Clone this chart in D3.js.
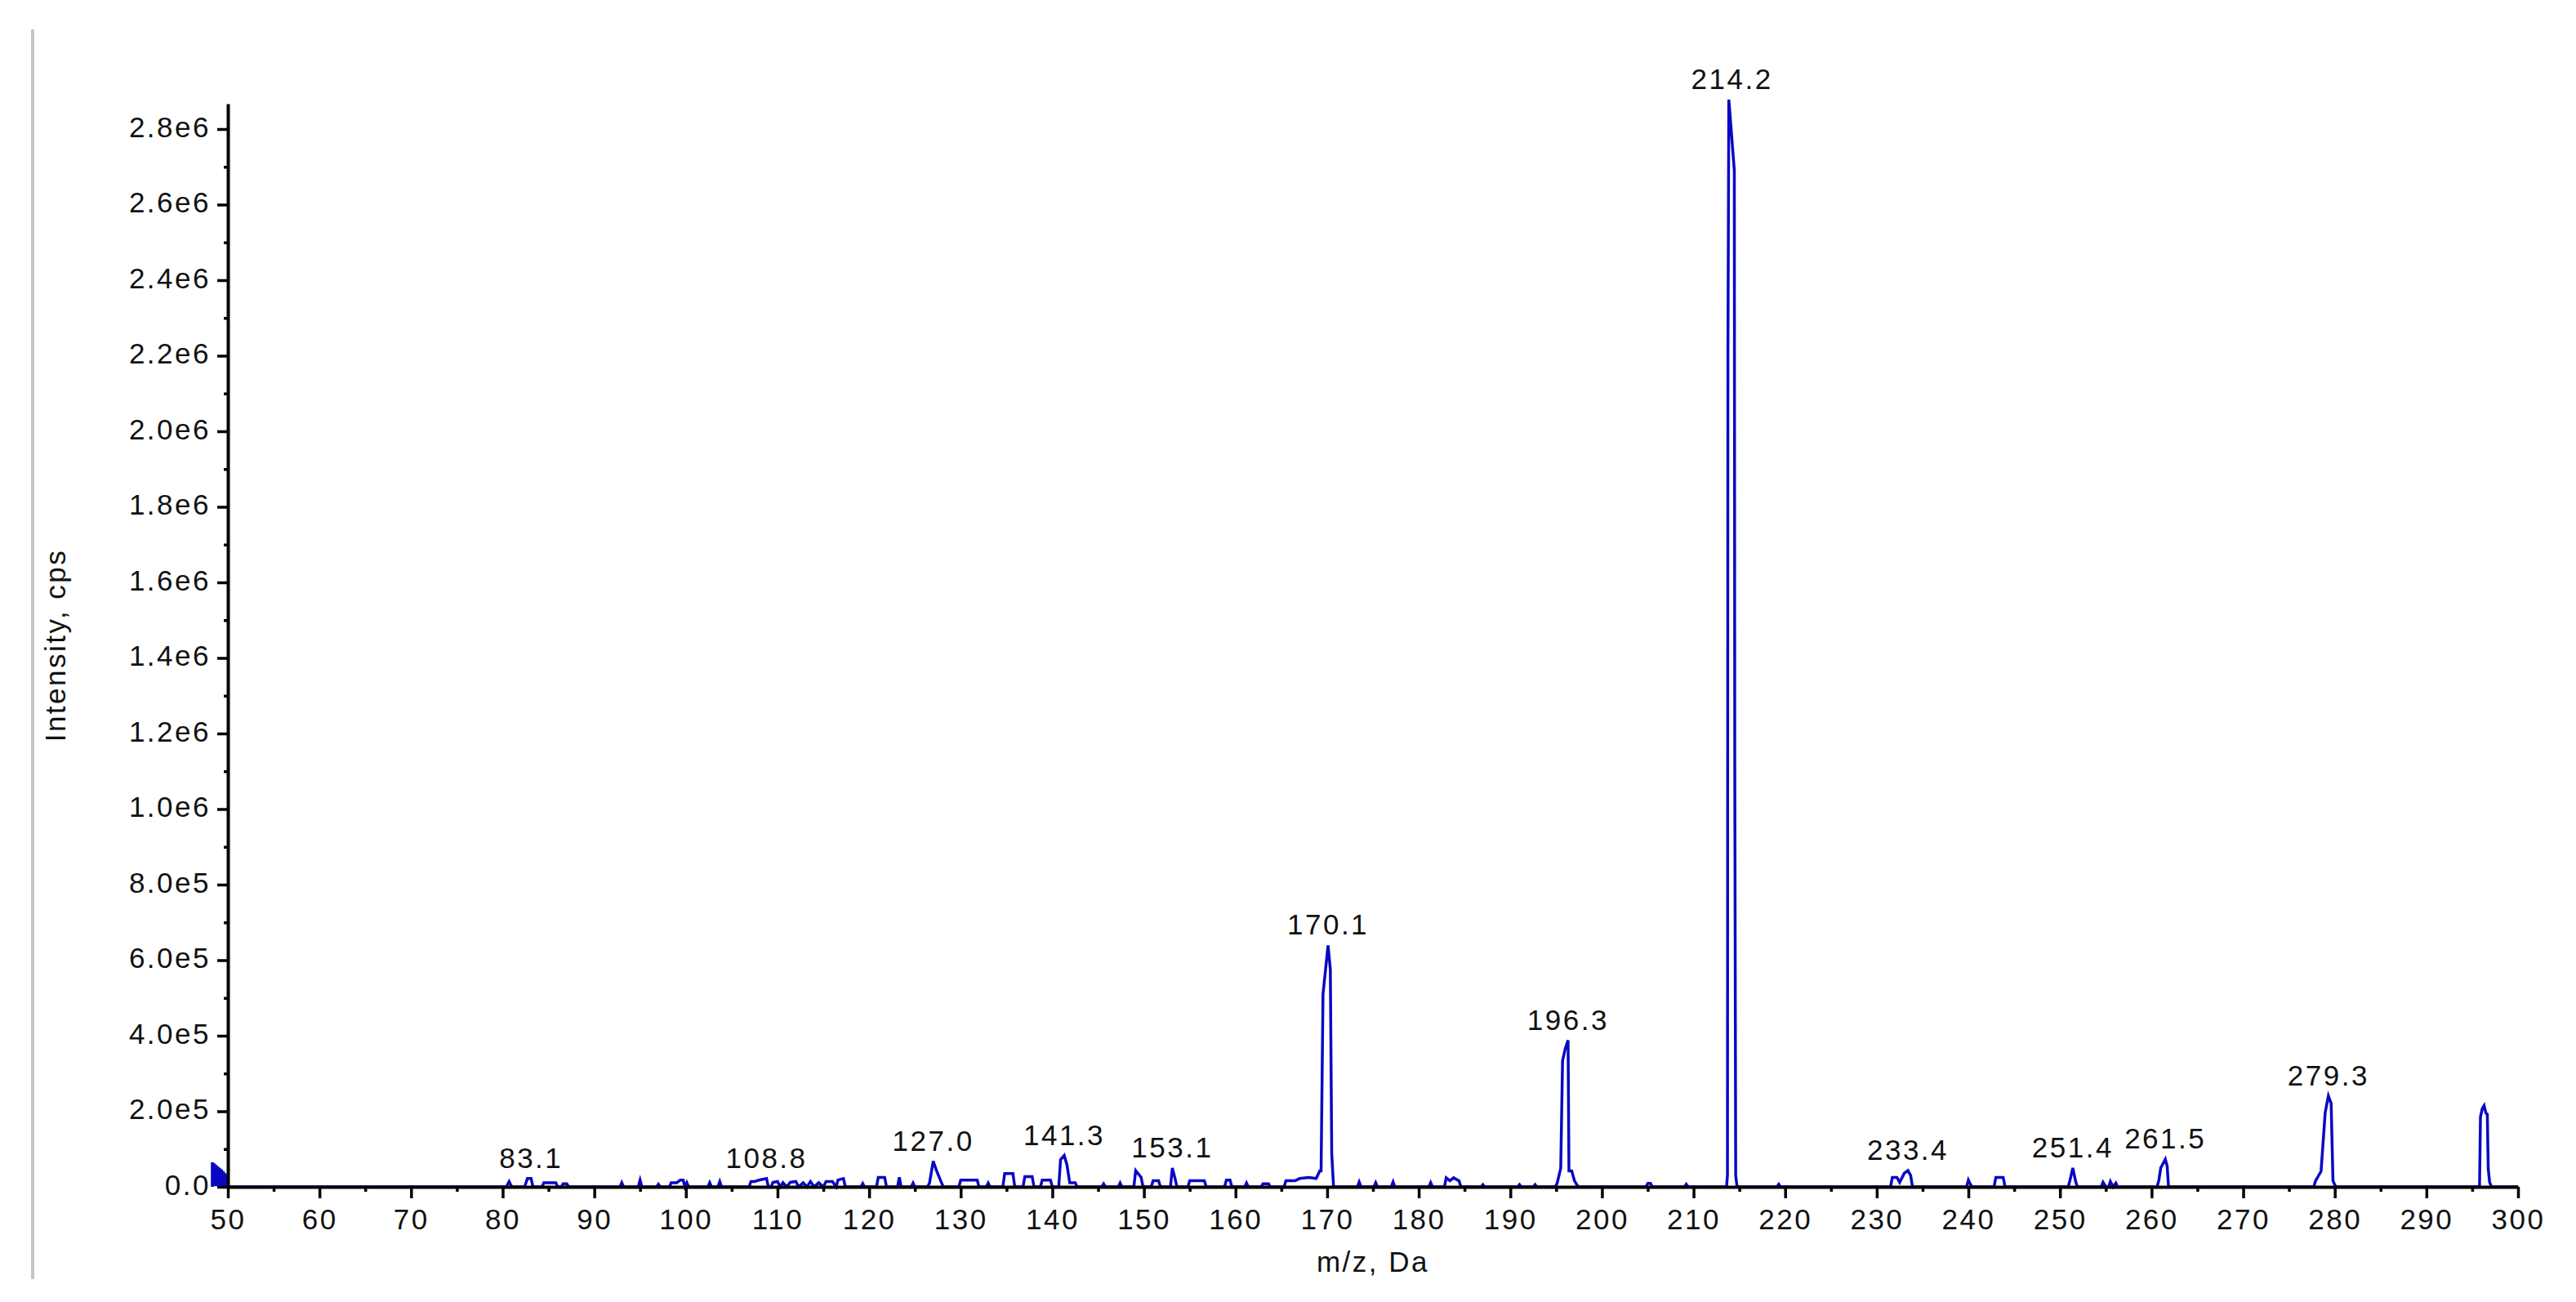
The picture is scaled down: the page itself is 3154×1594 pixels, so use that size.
<!DOCTYPE html>
<html>
<head>
<meta charset="utf-8">
<script src="https://cdn.jsdelivr.net/npm/d3@7"></script>
<style>
  body { margin: 0; background: #fff; }
  text { font-family: "Liberation Sans", Arial, sans-serif; fill: #111; }
</style>
</head>
<body>
<div id="chart"></div>
<script>
// ------------------------------- DATA ----------------------------------------
// Profile trace, [m/z (Da), intensity (cps)]
var spectrum = [
  [48.3, 0], [48.3, 65000], [48.45, 2000], [48.5, 62000], [48.65, 2000], [48.7, 58000],
  [48.85, 2000], [48.9, 54000], [49.05, 2000], [49.1, 50000], [49.25, 2000], [49.3, 46000],
  [49.45, 2000], [49.5, 41000], [49.65, 2000], [49.7, 36000], [49.85, 2000], [49.9, 30000],
  [50.0, 0], [80.4, 0], [80.7, 14000], [81.0, 0],
  [82.4, 0], [82.7, 22000], [83.1, 22000], [83.3, 0],
  [84.3, 0], [84.5, 11000], [85.8, 11000], [86.0, 0],
  [86.4, 0], [86.6, 8000], [87.0, 8000], [87.2, 0],
  [92.8, 0], [93.0, 11000], [93.2, 0],
  [94.8, 0], [95.0, 18000], [95.2, 0],
  [96.8, 0], [97.0, 7000], [97.2, 0],
  [98.2, 0], [98.4, 11000], [99.0, 11000], [99.4, 18000], [99.7, 18000], [99.9, 0],
  [100.1, 11000], [100.3, 0],
  [102.4, 0], [102.6, 11000], [102.8, 0],
  [103.5, 0], [103.7, 14000], [103.9, 0],
  [106.9, 0], [107.1, 14000], [107.5, 14000], [108.0, 18000], [108.8, 22000], [109.0, 0],
  [109.3, 0], [109.5, 12000], [110.0, 14000], [110.3, 0], [110.6, 11000], [111.0, 0],
  [111.4, 12000], [112.0, 14000], [112.3, 0], [112.8, 11000], [113.2, 0], [113.6, 14000],
  [114.0, 0], [114.5, 11000], [115.0, 0], [115.3, 14000], [116.0, 14000], [116.4, 0],
  [116.6, 18000], [117.2, 22000], [117.4, 0],
  [119.1, 0], [119.3, 9000], [119.5, 0],
  [120.8, 0], [121.0, 25000], [121.7, 25000], [121.9, 0],
  [123.1, 0], [123.3, 25000], [123.5, 0],
  [124.6, 0], [124.8, 10000], [125.0, 0],
  [126.4, 0], [126.6, 11000], [127.0, 68000], [127.4, 40000], [127.9, 11000], [128.1, 0],
  [129.8, 0], [130.0, 18000], [131.8, 18000], [132.0, 0],
  [132.8, 0], [133.0, 10000], [133.2, 0],
  [134.6, 0], [134.8, 35000], [135.7, 35000], [135.9, 0],
  [136.8, 0], [137.0, 27000], [137.8, 27000], [138.0, 0],
  [138.7, 0], [138.9, 18000], [139.8, 18000], [140.0, 0],
  [140.7, 0], [140.9, 72000], [141.3, 83000], [141.6, 58000], [141.9, 11000], [142.5, 11000], [142.7, 0],
  [145.4, 0], [145.6, 8000], [145.8, 0],
  [147.2, 0], [147.4, 10000], [147.6, 0],
  [148.9, 0], [149.1, 43000], [149.7, 25000], [149.9, 0],
  [150.8, 0], [151.0, 16000], [151.6, 16000], [151.8, 0],
  [152.9, 0], [153.1, 50000], [153.4, 22000], [153.6, 0],
  [154.8, 0], [155.0, 16000], [156.6, 16000], [156.8, 0],
  [158.8, 0], [159.0, 18000], [159.4, 18000], [159.6, 0],
  [161.0, 0], [161.2, 10000], [161.4, 0],
  [162.8, 0], [163.0, 8000], [163.6, 8000], [163.8, 0],
  [165.3, 0], [165.5, 16000], [166.5, 16000], [167.0, 22000], [168.0, 25000], [168.8, 22000],
  [169.2, 42000], [169.34, 42000], [169.55, 510000], [170.1, 639000], [170.35, 575000],
  [170.5, 89000], [170.7, 0],
  [173.3, 0], [173.5, 13000], [173.7, 0],
  [175.1, 0], [175.3, 11000], [175.5, 0],
  [177.0, 0], [177.2, 13000], [177.4, 0],
  [181.1, 0], [181.3, 11000], [181.5, 0],
  [182.8, 0], [183.0, 24000], [183.4, 16000], [183.8, 24000], [184.4, 16000], [184.6, 0],
  [186.8, 0], [187.0, 6000], [187.2, 0],
  [190.8, 0], [191.0, 6000], [191.2, 0],
  [192.5, 0], [192.7, 6000], [192.9, 0],
  [194.9, 0], [195.1, 9000], [195.5, 49000], [195.7, 334000], [196.0, 366000], [196.3, 388000],
  [196.4, 42000], [196.7, 42000], [197.0, 16000], [197.4, 0],
  [204.8, 0], [205.0, 9000], [205.3, 9000], [205.5, 0],
  [209.0, 0], [209.2, 7000], [209.4, 0],
  [213.6, 0], [213.7, 30000], [213.75, 2200000], [213.85, 2878000], [214.45, 2690000],
  [214.5, 1120000], [214.6, 30000], [214.75, 0],
  [219.1, 0], [219.3, 7000], [219.5, 0],
  [231.5, 0], [231.7, 25000], [232.2, 25000], [232.5, 12000], [233.0, 36000], [233.4, 43000],
  [233.7, 30000], [233.9, 0],
  [239.8, 0], [240.0, 18000], [240.2, 8000], [240.4, 0],
  [242.8, 0], [243.0, 25000], [243.8, 25000], [244.0, 0],
  [250.9, 0], [251.1, 18000], [251.4, 50000], [251.7, 15000], [251.9, 0],
  [254.5, 0], [254.7, 12000], [255.0, 0], [255.3, 0], [255.5, 14000], [255.8, 0],
  [256.1, 10000], [256.3, 0],
  [260.6, 0], [260.8, 18000], [261.0, 50000], [261.5, 73000], [261.7, 55000], [261.85, 0],
  [277.7, 0], [277.9, 16000], [278.5, 41000], [278.95, 196000], [279.3, 241000],
  [279.6, 221000], [279.8, 16000], [280.1, 0],
  [295.8, 0], [295.9, 185000], [296.1, 207000], [296.3, 215000], [296.5, 195000],
  [296.65, 192000], [296.75, 48000], [296.9, 12000], [297.1, 0], [300.0, 0]
];

// Annotated peaks
var peakLabels = [83.1, 108.8, 127.0, 141.3, 153.1, 170.1, 196.3, 214.2, 233.4, 251.4, 261.5, 279.3];

// Axis ticks
var xTicks = [50, 60, 70, 80, 90, 100, 110, 120, 130, 140, 150, 160, 170, 180, 190, 200,
              210, 220, 230, 240, 250, 260, 270, 280, 290, 300];
var yTicks = [0, 2e5, 4e5, 6e5, 8e5, 1e6, 1.2e6, 1.4e6, 1.6e6, 1.8e6, 2.0e6, 2.2e6, 2.4e6,
              2.6e6, 2.8e6];

// ------------------------------ CANVAS ---------------------------------------
var svgWidth = 3154,
    svgHeight = 1594;

var plot = {left: 279, right: 3083, top: 127, bottom: 1453};

var svg = d3.select("#chart")
  .append("svg")
    .attr("width", svgWidth)
    .attr("height", svgHeight)
    .style("display", "block");

svg.append("rect")
  .attr("width", svgWidth)
  .attr("height", svgHeight)
  .attr("fill", "#fff");

// grey frame edge on the left of the picture
svg.append("line")
  .attr("x1", 40).attr("x2", 40)
  .attr("y1", 36).attr("y2", 1566)
  .attr("stroke", "#c4c4c4")
  .attr("stroke-width", 4);

// ------------------------------ SCALES ---------------------------------------
var x = d3.scaleLinear()
  .domain([50, 300])
  .range([plot.left, plot.right]);

var y = d3.scaleLinear()
  .domain([0, 2.867e6])
  .range([plot.bottom, plot.top]);

// ------------------------------ SPECTRUM -------------------------------------
// drawn before the axes so the black axis line covers the zero baseline
var line = d3.line()
  .x(function(d) { return x(d[0]); })
  .y(function(d) { return y(d[1]); });

svg.append("path")
  .datum(spectrum)
  .attr("d", line)
  .attr("fill", "none")
  .attr("stroke", "#0808c4")
  .attr("stroke-width", 3.5)
  .attr("stroke-linejoin", "miter");

// ------------------------------- AXES ----------------------------------------
function fmtY(v) {
  if (v === 0) return "0.0";
  var e = Math.floor(Math.log10(v) + 1e-9);
  return (v / Math.pow(10, e)).toFixed(1) + "e" + e;
}

var fontSize = 35;

// minor ticks first, so the major ones draw on top
var xMinor = xTicks.slice(0, -1).map(function(t) { return t + 5; });
var yMinor = yTicks.slice(0, -1).map(function(t) { return t + 1e5; });

svg.append("g")
  .attr("transform", "translate(0," + plot.bottom + ")")
  .call(d3.axisBottom(x).tickValues(xMinor).tickSize(6).tickFormat(""))
  .call(function(g) { g.select(".domain").remove(); });

svg.append("g")
  .attr("transform", "translate(" + plot.left + ",0)")
  .call(d3.axisLeft(y).tickValues(yMinor).tickSize(5).tickFormat(""))
  .call(function(g) { g.select(".domain").remove(); });

var xAxisG = svg.append("g")
  .attr("transform", "translate(0," + plot.bottom + ")")
  .call(d3.axisBottom(x).tickValues(xTicks).tickSize(14).tickSizeOuter(0).tickPadding(13)
    .tickFormat(d3.format("d")));

var yAxisG = svg.append("g")
  .attr("transform", "translate(" + plot.left + ",0)")
  .call(d3.axisLeft(y).tickValues(yTicks).tickSize(13).tickSizeOuter(0).tickPadding(8)
    .tickFormat(fmtY));

svg.selectAll(".tick line")
  .attr("stroke", "#000")
  .attr("stroke-width", 3.5);

svg.selectAll(".tick text")
  .attr("font-size", fontSize)
  .attr("font-family", "Liberation Sans, Arial, sans-serif")
  .attr("fill", "#111")
  .style("letter-spacing", "2.5px");

yAxisG.selectAll(".tick text").attr("dy", "0.27em");

svg.selectAll(".domain")
  .attr("stroke", "#000")
  .attr("stroke-width", 4);

// axis titles
svg.append("text")
  .attr("x", (plot.left + plot.right) / 2)
  .attr("y", 1557)
  .attr("text-anchor", "middle")
  .attr("font-size", fontSize)
  .style("letter-spacing", "2.5px")
  .text("m/z, Da");

svg.append("text")
  .attr("transform", "translate(80," + ((plot.top + plot.bottom) / 2) + ") rotate(-90)")
  .attr("text-anchor", "middle")
  .attr("font-size", fontSize)
  .style("letter-spacing", "2.5px")
  .text("Intensity, cps");

// ------------------------------ PEAK LABELS ----------------------------------
// each label sits just above the highest point of its peak
function peakTop(m) {
  return d3.max(spectrum, function(d) { return Math.abs(d[0] - m) <= 0.45 ? d[1] : 0; });
}

svg.selectAll(null)
  .data(peakLabels)
  .enter()
  .append("text")
    .attr("x", function(d) { return x(d); })
    .attr("y", function(d) { return y(peakTop(d)) - 13; })
    .attr("text-anchor", "middle")
    .attr("font-size", fontSize)
    .style("letter-spacing", "2.5px")
    .text(function(d) { return d.toFixed(1); });
</script>
</body>
</html>
